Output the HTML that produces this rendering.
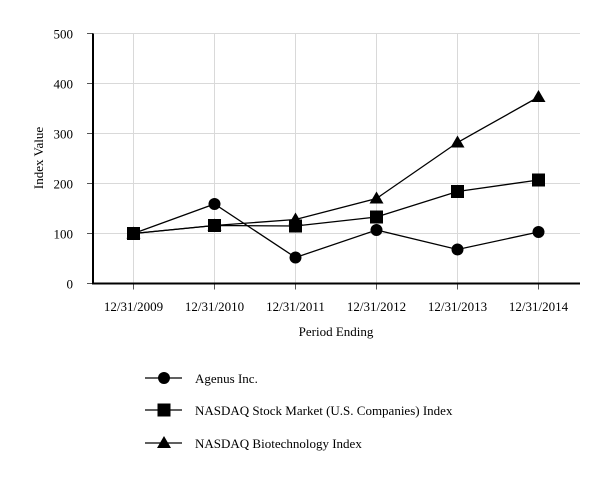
<!DOCTYPE html>
<html><head><meta charset="utf-8"><style>
body{margin:0;background:#fff;}
svg{display:block;font-family:"Liberation Serif",serif;}
</style></head><body>
<svg id="chart" width="613" height="480"></svg>
<script>
const categories=["12/31/2009","12/31/2010","12/31/2011","12/31/2012","12/31/2013","12/31/2014"];
const agenus=[100,159,52,107,68,103];
const nasdaq=[100,116,115,133,184,207];
const biotech=[100,116,128,170,282,373];
const yTicks=[0,100,200,300,400,500];
const seriesNames=["Agenus Inc.","NASDAQ Stock Market (U.S. Companies) Index","NASDAQ Biotechnology Index"];
const NS="http://www.w3.org/2000/svg";
const svg=document.getElementById('chart');
const x0=93,xr=580,y0=283.5,y5=33.5;
const X=i=>133.5+i*81;
const Y=v=>y0-(v/500)*(y0-y5);
function mk(t,a,p){const e=document.createElementNS(NS,t);for(const k in a)e.setAttribute(k,a[k]);(p||svg).appendChild(e);return e;}
const grid=mk('g',{});


yTicks.forEach(v=>{
  if(v>0){const l=mk('line',{x1:x0,x2:xr,y1:Y(v),y2:Y(v),stroke:'#d9d9d9','stroke-width':1},grid);
  
  }
  mk('line',{x1:x0-6,x2:x0,y1:Y(v),y2:Y(v),stroke:'#555','stroke-width':1});
  const t=mk('text',{x:x0-20,y:Y(v)+5,'text-anchor':'end','font-size':13});
  t.textContent=v;
  
  
});
categories.forEach((c,i)=>{
  const l=mk('line',{x1:X(i),x2:X(i),y1:y5,y2:y0,stroke:'#d9d9d9','stroke-width':1},grid);
  
  
  mk('line',{x1:X(i),x2:X(i),y1:y0,y2:y0+6,stroke:'#555','stroke-width':1});
  const t=mk('text',{x:X(i),y:311,'text-anchor':'middle','font-size':13});
  t.textContent=c;
  
  
});
const ax=mk('path',{d:`M${x0},${y5}V${y0}H${xr}`,fill:'none',stroke:'#000','stroke-width':2});


const yt=mk('text',{x:0,y:0,transform:'translate(43,158) rotate(-90)','text-anchor':'middle','font-size':13});
yt.textContent='Index Value';


const xt=mk('text',{x:336,y:336,'text-anchor':'middle','font-size':13});
xt.textContent='Period Ending';


function marker(type,x,y,p){
  if(type==='circle')return mk('circle',{cx:x,cy:y,r:6,fill:'#000'},p);
  if(type==='square')return mk('rect',{x:x-6.5,y:y-6.5,width:13,height:13,fill:'#000'},p);
  return mk('path',{d:`M${x},${y-7}L${x+7},${y+5}L${x-7},${y+5}Z`,fill:'#000'},p);
}
const all=[[biotech,'triangle','biotech'],[nasdaq,'square','nasdaq'],[agenus,'circle','agenus']];
all.forEach(([d,m,n])=>{
  const g=mk('g',{});
  
  
  const pl=mk('polyline',{points:d.map((v,i)=>X(i)+','+Y(v)).join(' '),fill:'none',stroke:'#000','stroke-width':1.3},g);
  
  
  d.forEach((v,i)=>{const e=marker(m,X(i),Y(v),g);
    
    });
});
const legY=[378,410,443],legM=['circle','square','triangle'];
seriesNames.forEach((s,i)=>{
  const g=mk('g',{});
  
  
  mk('line',{x1:145,x2:182,y1:legY[i],y2:legY[i],stroke:'#000','stroke-width':1.3},g);
  marker(legM[i],164,legY[i],g);
  const t=mk('text',{x:195,y:legY[i]+5,'font-size':13},g);
  t.textContent=s;
});
</script>
</body></html>
